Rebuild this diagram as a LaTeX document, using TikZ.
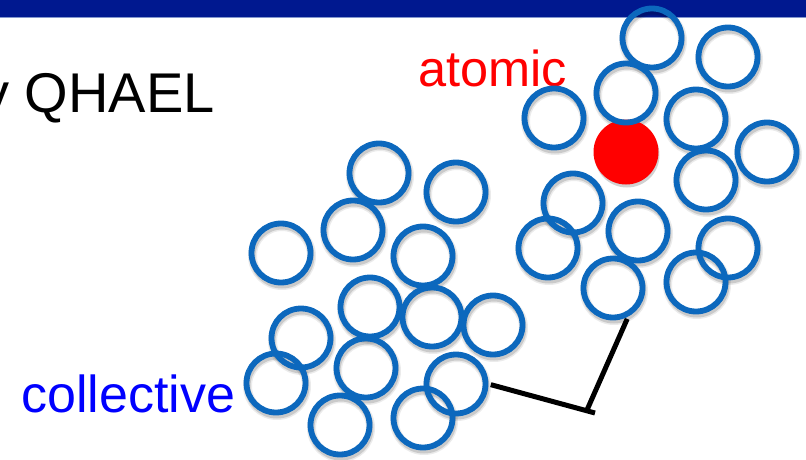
\documentclass[tikz,border=0pt]{standalone}
\usepackage{fontspec}
\setmainfont{Liberation Sans}
\definecolor{ringblue}{RGB}{12,104,189}
\definecolor{barblue}{RGB}{0,24,143}
\definecolor{barline}{RGB}{130,150,205}
\begin{document}
\begin{tikzpicture}[x=1pt,y=-1pt,
  ring/.style={circle,draw=ringblue,line width=5.8pt,minimum size=59pt,inner sep=0pt},
  txt/.style={anchor=base west,inner sep=0pt,font=\fontsize{50}{60}\selectfont},
  connector/.style={draw=black,line width=5pt,shorten <=2.5pt}]
\useasboundingbox (0,0) rectangle (806,460);
\clip (0,0) rectangle (806,460);
% title bar
\fill[barblue] (0,0) rectangle (806,17);
\draw[barline,line width=1pt] (0,17.5) -- (806,17.5);
% texts
\node[txt,font=\fontsize{56}{67}\selectfont] (title) at (-19,112) {y QHAEL};
\node[txt,text=red,font=\fontsize{50.5}{60}\selectfont] (atomic) at (418,87) {atomic};
\node[txt,text=blue,font=\fontsize{52}{62}\selectfont] (collective) at (21,412) {collective};
% shadows
\foreach \x/\y in {379/173,456/192,353/230,281/253,423/256,370/307,432/317,493/325,301/338,366/368,276/383,456/384,340/425,423/418,652/38,728/57,626/93,554/118,696/119,767/152,706/180,573/203,638/231,548/248,728/248,613/288,696/282}{
  \draw[black,opacity=0.08,line width=9pt] (\x+1,\y+3) circle[radius=29.5];
  \draw[black,opacity=0.14,line width=6pt] (\x+1,\y+3) circle[radius=29.5];
}
\fill[black,opacity=0.18] (627,155) circle[radius=32.5];
% atom
\node[circle,fill=red,minimum size=65pt,inner sep=0pt] (atom) at (626,152) {};
% rings
\foreach \n/\x/\y in {L1/379/173,L2/456/192,L3/353/230,L4/281/253,L5/423/256,L6/370/307,L7/432/317,L8/493/325,L9/301/338,L10/366/368,L11/276/383,L12/456/384,L13/340/425,L14/423/418,R1/652/38,R2/728/57,R3/626/93,R4/554/118,R5/696/119,R6/767/152,R7/706/180,R8/573/203,R9/638/231,R10/548/248,R11/728/248,R12/613/288,R13/696/282}
  \node[ring] (\n) at (\x,\y) {};
% connectors
\coordinate (corner) at (587,410);
\coordinate (tick) at (595,413);
\draw[connector] (L12.east) -- (tick);
\draw[connector] (R12.-62) -- (corner);
\end{tikzpicture}
\end{document}
